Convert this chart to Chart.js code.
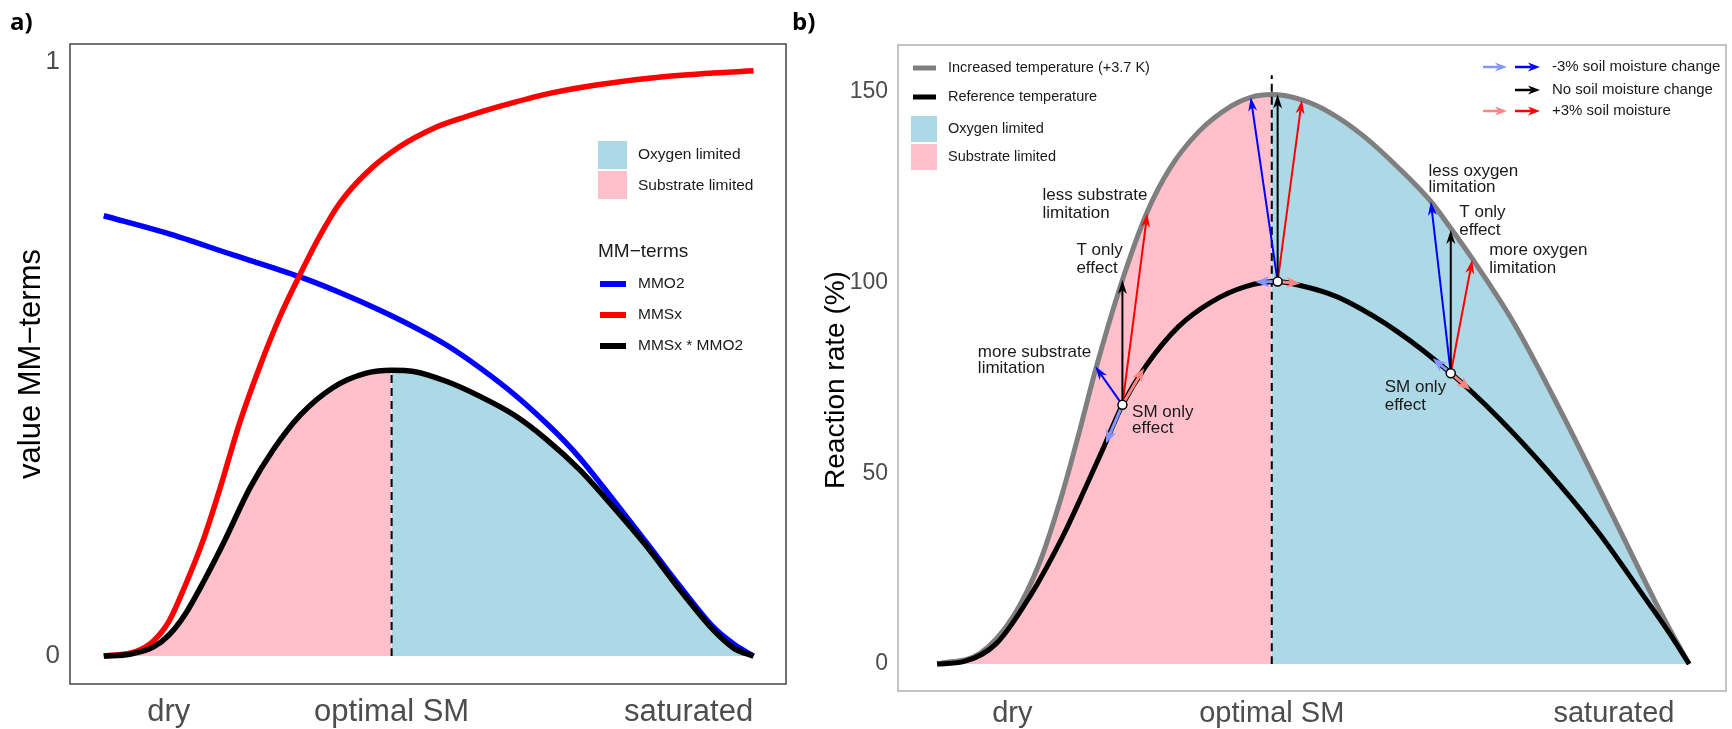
<!DOCTYPE html>
<html>
<head>
<meta charset="utf-8">
<script src="https://cdn.jsdelivr.net/npm/chart.js@4"></script>
<style>
  html, body { margin:0; padding:0; background:#fff; }
  #wrap { position:relative; width:1732px; height:729px; overflow:hidden; }
  canvas { position:absolute; top:0; }
  #cv-a { left:0; }
  #cv-b { left:780px; }
  .tag { position:absolute; top:4px; font:bold 24px "Open Sans", sans-serif; color:#000; }
</style>
</head>
<body>
<div id="wrap">
  <canvas id="cv-a" width="800" height="729"></canvas>
  <canvas id="cv-b" width="952" height="729"></canvas>
  <div class="tag" style="left:10px">a)</div>
  <div class="tag" style="left:792px">b)</div>
</div>
<script>
// ---------- data : panel a (MM-terms vs soil moisture) ----------
var xTickLabels = ['dry', 'optimal SM', 'saturated'];
var xTicksA = [0.1, 0.443, 0.9];
var yTicksA = [0, 1];

var mmsxX = [0, 0.05, 0.076, 0.1, 0.125, 0.153, 0.178, 0.209, 0.24, 0.271, 0.302, 0.332, 0.363, 0.404, 0.455, 0.507, 0.558, 0.609, 0.686, 0.763, 0.861, 1];
var mmsx  = [0, 0.008, 0.025, 0.058, 0.118, 0.195, 0.279, 0.392, 0.487, 0.571, 0.642, 0.706, 0.762, 0.813, 0.857, 0.888, 0.908, 0.925, 0.947, 0.962, 0.975, 0.985];

var mmo2X = [0, 0.096, 0.199, 0.302, 0.365, 0.425, 0.477, 0.528, 0.579, 0.631, 0.682, 0.708, 0.733, 0.784, 0.836, 0.887, 0.938, 0.97, 1];
var mmo2  = [0.741, 0.712, 0.675, 0.638, 0.611, 0.582, 0.554, 0.523, 0.485, 0.441, 0.391, 0.363, 0.333, 0.263, 0.19, 0.117, 0.049, 0.02, 0];

var prodX = [0, 0.04, 0.076, 0.1, 0.125, 0.155, 0.185, 0.225, 0.26, 0.302, 0.353, 0.404, 0.443, 0.477, 0.528, 0.579, 0.631, 0.682, 0.733, 0.784, 0.836, 0.887, 0.938, 0.97, 1];
var prod  = [0, 0.003, 0.015, 0.035, 0.07, 0.128, 0.192, 0.283, 0.346, 0.405, 0.452, 0.476, 0.481, 0.479, 0.462, 0.437, 0.406, 0.364, 0.313, 0.251, 0.184, 0.111, 0.044, 0.013, 0];
var optA = 0.443;

// ---------- data : panel b (reaction rate, %) ----------
var xTicksB = [0.1, 0.445, 0.9];
var yTicksB = [0, 50, 100, 150];
var optB = 0.445;
var dashTopB = 154.3;

var refX    = [0, 0.035, 0.079, 0.123, 0.167, 0.198, 0.22, 0.2464, 0.277, 0.321, 0.365, 0.41, 0.4528, 0.48, 0.52, 0.546, 0.612, 0.683, 0.745, 0.811, 0.877, 0.943, 0.974, 1];
var refRate = [0, 0.6, 5.4, 17.6, 33.4, 46.5, 56.1, 67.9, 77.9, 88.4, 94.9, 98.9, 100.2, 99.3, 97.1, 94.9, 87.1, 76.2, 64.8, 50.8, 35.1, 16.8, 8, 0];

var warmX    = [0, 0.057, 0.101, 0.136, 0.167, 0.19, 0.2103, 0.2464, 0.2795, 0.31, 0.348, 0.392, 0.417, 0.445, 0.485, 0.524, 0.568, 0.612, 0.6565, 0.684, 0.7116, 0.767, 0.833, 0.899, 0.956, 0.987, 1];
var warmRate = [0, 2.8, 12.4, 26.4, 45, 61.5, 76.8, 100.6, 118.5, 130, 139.5, 146.3, 148.5, 149.2, 147.8, 144.3, 138.2, 130.3, 121.2, 113.9, 106.2, 89.3, 64.8, 38.6, 15.9, 4.5, 0];

// reference points and arrow tips (SM, rate)
var refPtX    = [0.2464, 0.4528, 0.683];
var refPtY    = [67.9, 100.2, 76.2];
var tOnlyX    = [0.2464, 0.4528, 0.683];
var tOnlyY    = [100.6, 149.2, 113.7];
var drierX    = [0.2103, 0.417, 0.6565];
var drierY    = [78, 148.5, 121.2];
var wetterX   = [0.2795, 0.485, 0.7116];
var wetterY   = [118.1, 147.8, 105.9];
var smDrierX  = [0.2245, 0.423, 0.659];
var smDrierY  = [57.8, 100.1, 80.1];
var smWetterX = [0.275, 0.483, 0.709];
var smWetterY = [77.5, 99.7, 71.8];

// ---------- styles ----------
var OXY = '#ADD8E6', SUB = '#FFC0CB';
var BLUE = '#0000ff', RED = '#ff0000', LBLUE = '#8595ff', LRED = '#ff8585';
var FONT = '"Liberation Sans", Arial, sans-serif';
var TXT = '#1a1a1a', TICK = '#4d4d4d';

function pts(xs, ys) { return xs.map(function (x, i) { return { x: x, y: ys[i] }; }); }

function drawArrow(ctx, x1, y1, x2, y2, color, lw, hl, hw) {
  var a = Math.atan2(y2 - y1, x2 - x1), c = Math.cos(a), s = Math.sin(a);
  ctx.strokeStyle = color; ctx.fillStyle = color; ctx.lineWidth = lw; ctx.lineCap = 'butt';
  ctx.beginPath(); ctx.moveTo(x1, y1); ctx.lineTo(x2 - c * hl * 0.7, y2 - s * hl * 0.7); ctx.stroke();
  ctx.beginPath();
  ctx.moveTo(x2, y2);
  ctx.lineTo(x2 - c * hl - s * hw, y2 - s * hl + c * hw);
  ctx.lineTo(x2 - c * hl * 0.7, y2 - s * hl * 0.7);
  ctx.lineTo(x2 - c * hl + s * hw, y2 - s * hl - c * hw);
  ctx.closePath(); ctx.fill();
}

function text(ctx, str, x, y, size, color) {
  ctx.font = size + 'px ' + FONT; ctx.fillStyle = color || TXT;
  ctx.textAlign = 'left'; ctx.textBaseline = 'middle';
  ctx.fillText(str, x, y);
}

var framePlugin = {
  id: 'frame',
  afterDraw: function (chart, args, opts) {
    var a = chart.chartArea, ctx = chart.ctx;
    ctx.save(); ctx.strokeStyle = opts.color; ctx.lineWidth = opts.width;
    ctx.strokeRect(a.left, a.top, a.right - a.left, a.bottom - a.top);
    ctx.restore();
  }
};

function axes(o) {
  return {
    x: {
      type: 'linear', min: o.xmin, max: o.xmax,
      grid: { display: false, drawTicks: false }, border: { display: false },
      afterBuildTicks: function (s) { s.ticks = o.xt.map(function (v) { return { value: v }; }); },
      afterFit: function (s) { s.height = o.xh; },
      ticks: { autoSkip: false, maxRotation: 0, padding: o.xpad, color: TICK,
               font: { family: FONT, size: o.xfs }, callback: function (v, i) { return xTickLabels[i]; } }
    },
    y: {
      min: o.ymin, max: o.ymax,
      grid: { display: false, drawTicks: false }, border: { display: false },
      afterBuildTicks: function (s) { s.ticks = o.yt.map(function (v) { return { value: v }; }); },
      afterFit: function (s) { s.width = o.yw; },
      ticks: { padding: o.ypad, color: TICK, font: { family: FONT, size: o.yfs } },
      title: { display: !!o.title, text: o.title, color: '#000', font: { family: FONT, size: o.tfs },
               padding: { top: o.tpad, bottom: 0 } }
    }
  };
}

// ---------- panel a ----------
var legendA = {
  id: 'legendA',
  afterDraw: function (chart) {
    var ctx = chart.ctx;
    ctx.save();
    ctx.fillStyle = OXY; ctx.fillRect(598, 141, 29, 28);
    ctx.fillStyle = SUB; ctx.fillRect(598, 171, 29, 28);
    text(ctx, 'Oxygen limited', 638, 155, 15.5);
    text(ctx, 'Substrate limited', 638, 186, 15.5);
    text(ctx, 'MM\u2212terms', 598, 252, 19);
    [[BLUE, 'MMO2', 284], [RED, 'MMSx', 315], ['#000', 'MMSx * MMO2', 346]].forEach(function (r) {
      ctx.fillStyle = r[0]; ctx.fillRect(600, r[2] - 3, 26, 6);
      text(ctx, r[1], 638, r[2], 15.5);
    });
    ctx.restore();
  }
};

var prodPts = pts(prodX, prod);
new Chart(document.getElementById('cv-a'), {
  type: 'line',
  data: { datasets: [
    { data: prodPts.filter(function (p) { return p.x <= optA; }), fill: 'origin', backgroundColor: SUB, borderWidth: 0, order: 10 },
    { data: prodPts.filter(function (p) { return p.x >= optA; }), fill: 'origin', backgroundColor: OXY, borderWidth: 0, order: 9 },
    { data: pts(mmo2X, mmo2), borderColor: BLUE, borderWidth: 5.5, order: 5 },
    { data: pts(mmsxX, mmsx), borderColor: RED, borderWidth: 5.5, order: 4 },
    { data: [{ x: optA, y: 0 }, { x: optA, y: prod[prodX.indexOf(optA)] }], borderColor: '#000', borderWidth: 2, borderDash: [8, 5], order: 3 },
    { data: prodPts, borderColor: '#000', borderWidth: 5.5, order: 2 }
  ] },
  options: {
    responsive: false, animation: false, devicePixelRatio: 1,
    layout: { padding: { top: 44, right: 14, left: 0, bottom: 0 } },
    elements: { point: { radius: 0 }, line: { cubicInterpolationMode: 'monotone' } },
    plugins: { legend: { display: false }, tooltip: { enabled: false }, frame: { color: '#444', width: 1.5 } },
    scales: axes({ xmin: -0.052, xmax: 1.05, ymin: -0.047, ymax: 1.03, xt: xTicksA, yt: yTicksA,
                   xh: 45, xpad: 9.4, xfs: 31, yw: 70, ypad: 10, yfs: 26,
                   title: 'value MM\u2212terms', tfs: 31, tpad: 12.4 })
  },
  plugins: [framePlugin, legendA]
});

// ---------- panel b ----------
var notesB = [
  ['less substrate', 0.1402, 122.9], ['limitation', 0.1402, 118.2],
  ['T only', 0.1852, 108.5], ['effect', 0.1852, 103.8],
  ['more substrate', 0.0542, 81.8], ['limitation', 0.0542, 77.6],
  ['SM only', 0.2593, 66.0], ['effect', 0.2593, 61.8],
  ['less oxygen', 0.6534, 129.2], ['limitation', 0.6534, 124.8],
  ['T only', 0.6944, 118.3], ['effect', 0.6944, 113.7],
  ['more oxygen', 0.7341, 108.3], ['limitation', 0.7341, 103.7],
  ['SM only', 0.5952, 72.5], ['effect', 0.5952, 67.9]
];

var arrowsB = {
  id: 'arrowsB',
  beforeDatasetDraw: function (chart, args) {
    if (args.index !== 5) return;
    var ctx = chart.ctx, sx = chart.scales.x, sy = chart.scales.y;
    function px(v) { return sx.getPixelForValue(v); }
    function py(v) { return sy.getPixelForValue(v); }
    ctx.save();
    refPtX.forEach(function (x0, i) {
      var X = px(x0), Y = py(refPtY[i]);
      drawArrow(ctx, X, Y, px(smDrierX[i]), py(smDrierY[i]), LBLUE, 3, 14, 5.5);
      drawArrow(ctx, X, Y, px(smWetterX[i]), py(smWetterY[i]), LRED, 3, 14, 5.5);
      drawArrow(ctx, X, Y, px(drierX[i]), py(drierY[i]), BLUE, 2, 14, 4.5);
      drawArrow(ctx, X, Y, px(wetterX[i]), py(wetterY[i]), RED, 2, 14, 4.5);
      drawArrow(ctx, X, Y, px(tOnlyX[i]), py(tOnlyY[i]), '#000', 2, 14, 4.5);
    });
    ctx.restore();
  },
  afterDraw: function (chart) {
    var ctx = chart.ctx, sx = chart.scales.x, sy = chart.scales.y;
    ctx.save();
    // y title (sits a little below the panel centre in the original)
    ctx.translate(56, 380); ctx.rotate(-Math.PI / 2);
    ctx.font = '28px ' + FONT; ctx.fillStyle = '#000'; ctx.textAlign = 'center'; ctx.textBaseline = 'middle';
    ctx.fillText('Reaction rate (%)', 0, 0);
    ctx.setTransform(1, 0, 0, 1, 0, 0);
    notesB.forEach(function (n) { text(ctx, n[0], sx.getPixelForValue(n[1]), sy.getPixelForValue(n[2]), 17); });
    // legend, left
    ctx.fillStyle = '#7f7f7f'; ctx.fillRect(133, 65.5, 23, 5);
    ctx.fillStyle = '#000'; ctx.fillRect(133, 94.5, 23, 5);
    ctx.fillStyle = OXY; ctx.fillRect(131, 116, 26, 26);
    ctx.fillStyle = SUB; ctx.fillRect(131, 144, 26, 26);
    text(ctx, 'Increased temperature (+3.7 K)', 168, 68, 14.5);
    text(ctx, 'Reference temperature', 168, 97, 14.5);
    text(ctx, 'Oxygen limited', 168, 129, 14.5);
    text(ctx, 'Substrate limited', 168, 157, 14.5);
    // legend, right
    drawArrow(ctx, 703, 67, 727, 67, LBLUE, 2.5, 12, 4.5);
    drawArrow(ctx, 735, 67, 760, 67, BLUE, 2.5, 12, 4.5);
    drawArrow(ctx, 735, 90, 760, 90, '#000', 2.5, 12, 4.5);
    drawArrow(ctx, 703, 111, 727, 111, LRED, 2.5, 12, 4.5);
    drawArrow(ctx, 735, 111, 760, 111, RED, 2.5, 12, 4.5);
    text(ctx, '-3% soil moisture change', 772, 67, 15);
    text(ctx, 'No soil moisture change', 772, 90, 15);
    text(ctx, '+3% soil moisture', 772, 111, 15);
    ctx.restore();
  }
};

var warmPts = pts(warmX, warmRate);
new Chart(document.getElementById('cv-b'), {
  type: 'line',
  data: { datasets: [
    { data: warmPts.filter(function (p) { return p.x <= optB; }), fill: 'origin', backgroundColor: SUB, borderWidth: 0, order: 10 },
    { data: warmPts.filter(function (p) { return p.x >= optB; }), fill: 'origin', backgroundColor: OXY, borderWidth: 0, order: 9 },
    { data: warmPts, borderColor: '#7f7f7f', borderWidth: 5, order: 5 },
    { data: [{ x: optB, y: 0 }, { x: optB, y: dashTopB }], borderColor: '#000', borderWidth: 2, borderDash: [8, 5], order: 4 },
    { data: pts(refX, refRate), borderColor: '#000', borderWidth: 5, order: 3 },
    { data: pts(refPtX, refPtY), showLine: false, pointRadius: 4.5, pointBackgroundColor: '#fff',
      pointBorderColor: '#000', pointBorderWidth: 1.5, order: 0 }
  ] },
  options: {
    responsive: false, animation: false, devicePixelRatio: 1,
    layout: { padding: { top: 45, right: 2, left: 0, bottom: 0 } },
    elements: { point: { radius: 0 }, line: { cubicInterpolationMode: 'monotone' } },
    plugins: { legend: { display: false }, tooltip: { enabled: false }, frame: { color: '#b0b0b0', width: 1.5 } },
    scales: axes({ xmin: -0.052, xmax: 1.049, ymin: -7.08, ymax: 162.2, xt: xTicksB, yt: yTicksB,
                   xh: 38, xpad: 5.6, xfs: 29, yw: 118, ypad: 10, yfs: 23,
                   title: '', tfs: 28, tpad: 39.2 })
  },
  plugins: [framePlugin, arrowsB]
});
</script>
</body>
</html>
